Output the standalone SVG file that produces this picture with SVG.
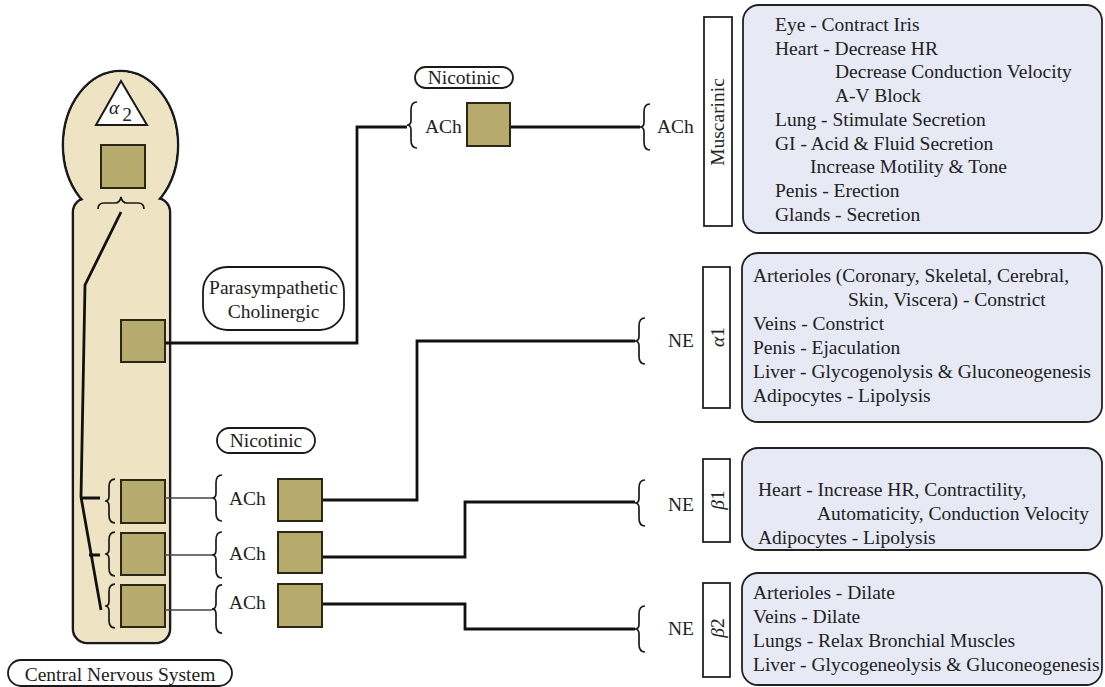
<svg xmlns="http://www.w3.org/2000/svg" width="1105" height="687" viewBox="0 0 1105 687" font-family="Liberation Serif, DejaVu Serif, serif">
<style>
text{font-family:"Liberation Serif","DejaVu Serif",serif;font-size:19.5px;fill:#222}
.cns{fill:#eee4c4;stroke:none}
.cnsO{fill:none;stroke:#1a1a1a;stroke-width:2.6}
.gang{fill:#b6aa6c;stroke:#2a2618;stroke-width:2}
.pill{fill:#fff;stroke:#1a1a1a;stroke-width:1.8}
.rec{fill:#fff;stroke:#222;stroke-width:1.8}
.box{fill:#e7e9f5;stroke:#222;stroke-width:1.8}
.wire{fill:none;stroke:#111;stroke-width:2.8}
.thin{fill:none;stroke:#444;stroke-width:1.6}
.brace{fill:none;stroke:#1a1a1a;stroke-width:1.7}
.mid{text-anchor:middle}
</style>
<defs>
<path id="br" d="M10,-23 Q4,-23 4,-15 L4,-5 Q4,0 0,0 Q4,0 4,5 L4,15 Q4,23 10,23"/>
</defs>

<g id="cns-body">
<ellipse class="cnsO" cx="120.5" cy="145" rx="57.5" ry="74"/>
<rect class="cnsO" x="73" y="198" width="97" height="445" rx="14"/>
<ellipse class="cns" cx="120.5" cy="145" rx="56.2" ry="72.7"/>
<rect class="cns" x="74.3" y="199.3" width="94.4" height="442.4" rx="13"/>
<polygon points="121,81 96,125 147,125" fill="#fff" stroke="#1a1a1a" stroke-width="2"/>
<text x="114" y="114" class="mid" font-style="italic" font-size="22">α</text>
<text x="127" y="121" class="mid" font-size="18">2</text>
<rect class="gang" x="101" y="145" width="44" height="43"/>
<path class="brace" d="M98,209 Q98,203 104,203 L115,203 Q120,203 121,197 Q122,203 127,203 L138,203 Q144,203 144,209"/>
<path class="wire" d="M121,212 L85,285 L81,497 L101,610 M81,498 H100 M89,555 H100" stroke-width="2.6"/>
<rect class="gang" x="121" y="320" width="44" height="42"/>
<rect class="gang" x="121" y="480" width="44" height="43"/>
<rect class="gang" x="121" y="533" width="44" height="42"/>
<rect class="gang" x="121" y="585" width="44" height="42"/>
<use href="#br" class="brace" transform="translate(105,501) scale(1,0.95)"/>
<use href="#br" class="brace" transform="translate(105,554) scale(1,0.95)"/>
<use href="#br" class="brace" transform="translate(105,606) scale(1,0.95)"/>
</g>

<g id="cns-label">
<rect class="pill" x="8" y="660" width="224" height="26" rx="13"/>
<text x="120" y="681" class="mid">Central Nervous System</text>
</g>

<g id="parasympathetic-label">
<rect class="pill" x="203" y="267" width="141" height="63" rx="24"/>
<text x="273.5" y="294" class="mid">Parasympathetic</text>
<text x="273.5" y="318" class="mid">Cholinergic</text>
</g>

<g id="nicotinic-top">
<rect class="pill" x="415" y="67" width="98" height="21" rx="10.5"/>
<text x="464" y="84" class="mid">Nicotinic</text>
</g>

<g id="nicotinic-bottom">
<rect class="pill" x="217" y="428" width="98" height="25" rx="12.5"/>
<text x="266" y="447" class="mid">Nicotinic</text>
</g>

<g id="connectors">
<path class="wire" d="M165,343 H357 V127 H407"/>
<path class="wire" d="M510,127 H640"/>
<path class="thin" d="M165,498 H212 M165,555 H212 M165,610 H212"/>
<path class="wire" d="M322,500 H417 V341 H635"/>
<path class="wire" d="M322,557 H465 V502 H635"/>
<path class="wire" d="M322,604 H465 V629 H635"/>
</g>

<g id="para-ganglion">
<use href="#br" class="brace" transform="translate(407,125)"/>
<text x="425" y="133">ACh</text>
<rect class="gang" x="467" y="103" width="43" height="43"/>
<use href="#br" class="brace" transform="translate(640,127)"/>
<text x="657" y="133">ACh</text>
</g>

<g id="symp-ganglion-1">
<use href="#br" class="brace" transform="translate(212,498)"/>
<text x="229" y="505">ACh</text>
<rect class="gang" x="278" y="479" width="44" height="42"/>
</g>
<g id="symp-ganglion-2">
<use href="#br" class="brace" transform="translate(212,555)"/>
<text x="229" y="560">ACh</text>
<rect class="gang" x="278" y="532" width="44" height="41"/>
</g>
<g id="symp-ganglion-3">
<use href="#br" class="brace" transform="translate(212,609) scale(1,1.05)"/>
<text x="229" y="609">ACh</text>
<rect class="gang" x="278" y="584" width="44" height="43"/>
</g>

<g id="muscarinic">
<rect class="rec" x="704" y="17" width="28" height="209"/>
<text class="mid" transform="translate(724,122) rotate(-90)">Muscarinic</text>
<rect class="box" x="743" y="5" width="359" height="228" rx="16"/>
<text x="775" y="31">Eye - Contract Iris</text>
<text x="775" y="55">Heart - Decrease HR</text>
<text x="835" y="78">Decrease Conduction Velocity</text>
<text x="835" y="102">A-V Block</text>
<text x="775" y="126">Lung - Stimulate Secretion</text>
<text x="775" y="150">GI - Acid &amp; Fluid Secretion</text>
<text x="810" y="173">Increase Motility &amp; Tone</text>
<text x="775" y="197">Penis - Erection</text>
<text x="775" y="221">Glands - Secretion</text>
</g>

<g id="alpha1">
<use href="#br" class="brace" transform="translate(635,341)"/>
<text x="668" y="347">NE</text>
<rect class="rec" x="703" y="267" width="27" height="141"/>
<text class="mid" transform="translate(724,337) rotate(-90)"><tspan font-style="italic">α</tspan>1</text>
<rect class="box" x="742" y="253" width="360" height="169" rx="16"/>
<text x="753" y="282">Arterioles (Coronary, Skeletal, Cerebral,</text>
<text x="848" y="306">Skin, Viscera) - Constrict</text>
<text x="753" y="330">Veins - Constrict</text>
<text x="753" y="354">Penis - Ejaculation</text>
<text x="753" y="378">Liver - Glycogenolysis &amp; Gluconeogenesis</text>
<text x="753" y="402">Adipocytes - Lipolysis</text>
</g>

<g id="beta1">
<use href="#br" class="brace" transform="translate(635,503)"/>
<text x="668" y="511">NE</text>
<rect class="rec" x="703" y="459" width="27" height="83"/>
<text class="mid" transform="translate(724,500) rotate(-90)"><tspan font-style="italic">β</tspan>1</text>
<rect class="box" x="742" y="448" width="360" height="102" rx="16"/>
<text x="758" y="496">Heart - Increase HR, Contractility,</text>
<text x="817" y="520">Automaticity, Conduction Velocity</text>
<text x="758" y="544">Adipocytes - Lipolysis</text>
</g>

<g id="beta2">
<use href="#br" class="brace" transform="translate(635,629)"/>
<text x="668" y="635">NE</text>
<rect class="rec" x="703" y="583" width="27" height="94"/>
<text class="mid" transform="translate(724,628) rotate(-90)"><tspan font-style="italic">β</tspan>2</text>
<rect class="box" x="742" y="573" width="360" height="112" rx="16"/>
<text x="753" y="599">Arterioles - Dilate</text>
<text x="753" y="623">Veins - Dilate</text>
<text x="753" y="647">Lungs - Relax Bronchial Muscles</text>
<text x="753" y="671">Liver - Glycogeneolysis &amp; Gluconeogenesis</text>
</g>
</svg>
